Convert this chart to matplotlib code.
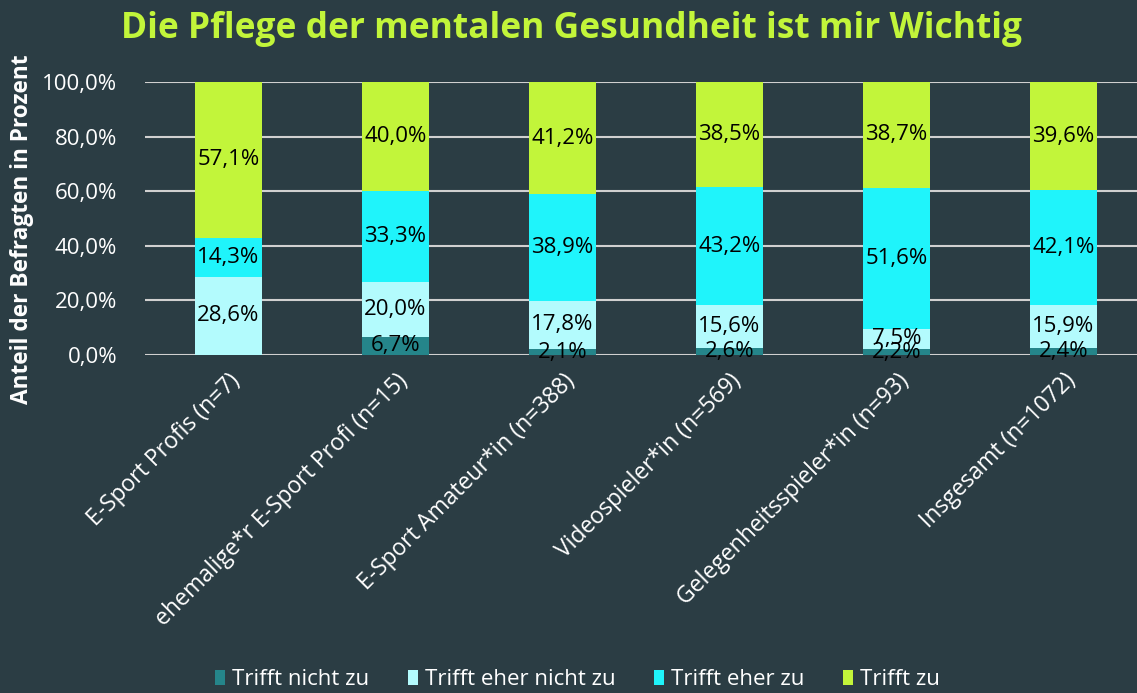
import numpy as np
import matplotlib.pyplot as plt

BG = "#2b3d44"

categories = ["E-Sport Profis (n=7)", "ehemalige*r E-Sport Profi (n=15)",
              "E-Sport Amateur*in (n=388)", "Videospieler*in (n=569)",
              "Gelegenheitsspieler*in (n=93)", "Insgesamt (n=1072)"]
series_names = ["Trifft nicht zu", "Trifft eher nicht zu", "Trifft eher zu", "Trifft zu"]
nicht_zu      = [0.0, 6.7, 2.1, 2.6, 2.2, 2.4]
eher_nicht_zu = [28.6, 20.0, 17.8, 15.6, 7.5, 15.9]
eher_zu       = [14.3, 33.3, 38.9, 43.2, 51.6, 42.1]
trifft_zu     = [57.1, 40.0, 41.2, 38.5, 38.7, 39.6]
colors = ["#25858a", "#b3fbfd", "#1ff4fb", "#c2f53a"]
yticks = [0, 20, 40, 60, 80, 100]

plt.rcParams['font.family'] = ['Open Sans', 'DejaVu Sans']

fig = plt.figure(figsize=(11.37, 6.93), dpi=100, facecolor=BG)
ax = fig.add_axes([0.1275, 0.4877, 0.8725, 0.394], facecolor=BG)

x = np.arange(len(categories))
bottom = np.zeros(len(categories))
for name, vals, col in zip(series_names, [nicht_zu, eher_nicht_zu, eher_zu, trifft_zu], colors):
    vals = np.array(vals)
    ax.bar(x, vals, 0.4, bottom=bottom, color=col, label=name, zorder=3)
    # value labels centred in each segment (small ones overlap, as in the original)
    for xi, b, v in zip(x, bottom, vals):
        if v > 0:
            ax.text(xi, b + v / 2, f"{v:.1f}%".replace(".", ","), ha="center", va="center",
                    fontsize=16, color="black", zorder=4)
    bottom += vals

ax.set_ylim(0, 100)
ax.set_xlim(-0.5, 5.44)
ax.set_yticks(yticks)
ax.set_yticklabels([f"{t:.1f}%".replace(".", ",") for t in yticks], color="white", fontsize=16)
ax.yaxis.grid(True, color="#d0d0d0", linewidth=1.5, zorder=0)
ax.tick_params(axis="y", length=0, pad=20)
ax.tick_params(axis="x", length=0, pad=10)
ax.set_xticks(x)
ax.set_xticklabels(categories, rotation=45, ha="right", rotation_mode="anchor",
                   color="white", fontsize=16.5)
for s in ax.spines.values():
    s.set_visible(False)

ax.set_ylabel("Anteil der Befragten in Prozent", color="white", fontsize=16.3,
              fontweight="bold")
ax.yaxis.set_label_coords(-0.112, 0.46)

fig.text(0.503, 0.958, "Die Pflege der mentalen Gesundheit ist mir Wichtig",
         ha="center", va="center", fontsize=25.5, fontweight="bold", color="#c2f53a")

leg = fig.legend(loc="center", bbox_to_anchor=(0.508, 0.019), ncol=4, frameon=False,
                 fontsize=16, labelcolor="white", handlelength=0.45, handleheight=0.7,
                 handletextpad=0.3, columnspacing=1.75)

fig.savefig("out.png", dpi=100, facecolor=BG)
